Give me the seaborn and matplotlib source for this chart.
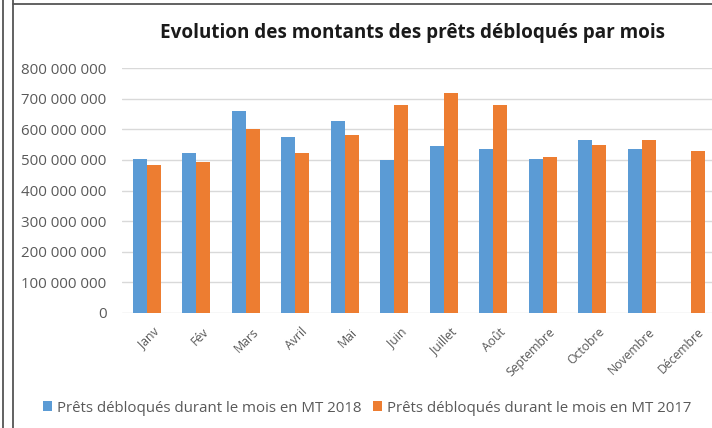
import numpy as np
import pandas as pd
import seaborn as sns
import matplotlib.pyplot as plt
import matplotlib.transforms as mtransforms
from matplotlib.lines import Line2D
from matplotlib.ticker import FuncFormatter

# ======================================
# DATA
# ======================================
months = ["Janv", "Fév", "Mars", "Avril", "Mai", "Juin", "Juillet", "Août",
          "Septembre", "Octobre", "Novembre", "Décembre"]
montants_2018 = [502e6, 524e6, 658e6, 576e6, 627e6, 500e6, 545e6, 537e6,
                 504e6, 565e6, 537e6, np.nan]
montants_2017 = [484e6, 494e6, 601e6, 521e6, 580e6, 680e6, 717e6, 680e6,
                 509e6, 547e6, 566e6, 529e6]
series_labels = ["Prêts débloqués durant le mois en MT 2018",
                 "Prêts débloqués durant le mois en MT 2017"]

df = pd.DataFrame({
    "mois": months * 2,
    "montant": montants_2018 + montants_2017,
    "serie": [series_labels[0]] * 12 + [series_labels[1]] * 12,
})

# ======================================
# PLOT
# ======================================
sns.set_style("white")
plt.rcParams["font.family"] = ["Open Sans", "DejaVu Sans"]

W, H = 712, 428
fig = plt.figure(figsize=(W / 100, H / 100), dpi=100)
ax = fig.add_axes([122 / W, (H - 313) / H, (716 - 122) / W, (313 - 68) / H])

sns.barplot(
    data=df, x="mois", y="montant", hue="serie",
    order=months, hue_order=series_labels,
    palette=["#5B9BD5", "#ED7D31"], saturation=1,
    width=0.57, gap=0, errorbar=None, linewidth=0, ax=ax,
)

ax.set_ylim(0, 800e6)
ax.set_xlim(-0.5, 11.5)
ax.set_yticks(np.arange(0, 800e6 + 1, 100e6))
ax.yaxis.set_major_formatter(
    FuncFormatter(lambda v, p: f"{int(v):,}".replace(",", " ")))
ax.grid(axis="y", color="#d9d9d9", linewidth=1)
ax.set_axisbelow(True)
for s in ax.spines.values():
    s.set_visible(False)
ax.tick_params(axis="y", length=0, pad=11, labelsize=10.8, labelcolor="#595959")
ax.tick_params(axis="x", length=0, pad=9, labelsize=8.8, labelcolor="#595959")
shift = mtransforms.ScaledTranslation(0.06, 0, fig.dpi_scale_trans)
for lbl in ax.get_xticklabels():
    lbl.set_rotation(45)
    lbl.set_ha("right")
    lbl.set_rotation_mode("anchor")
    lbl.set_transform(lbl.get_transform() + shift)
ax.set_xlabel("")
ax.set_ylabel("")

ax.legend_.remove()
handles, labels = ax.get_legend_handles_labels()
fig.legend(handles, labels, loc="center", bbox_to_anchor=(367 / W, 1 - 408 / H),
           ncol=2, frameon=False, fontsize=10.8, labelcolor="#595959",
           handlelength=0.6, handleheight=0.6, handletextpad=0.3,
           columnspacing=0.8)

fig.text(412 / W, 1 - 33 / H, "Evolution des montants des prêts débloqués par mois",
         ha="center", va="center", fontsize=13.6, fontweight="bold", color="#1a1a1a")

# frame lines from the screenshot
for x in (3, 13):
    fig.add_artist(Line2D([x / W, x / W], [0, 1], color="#555555", lw=1.3))
fig.add_artist(Line2D([13 / W, 1], [1 - 4 / H, 1 - 4 / H], color="#555555", lw=1.3))

plt.savefig("out.png", dpi=100)
plt.close()
